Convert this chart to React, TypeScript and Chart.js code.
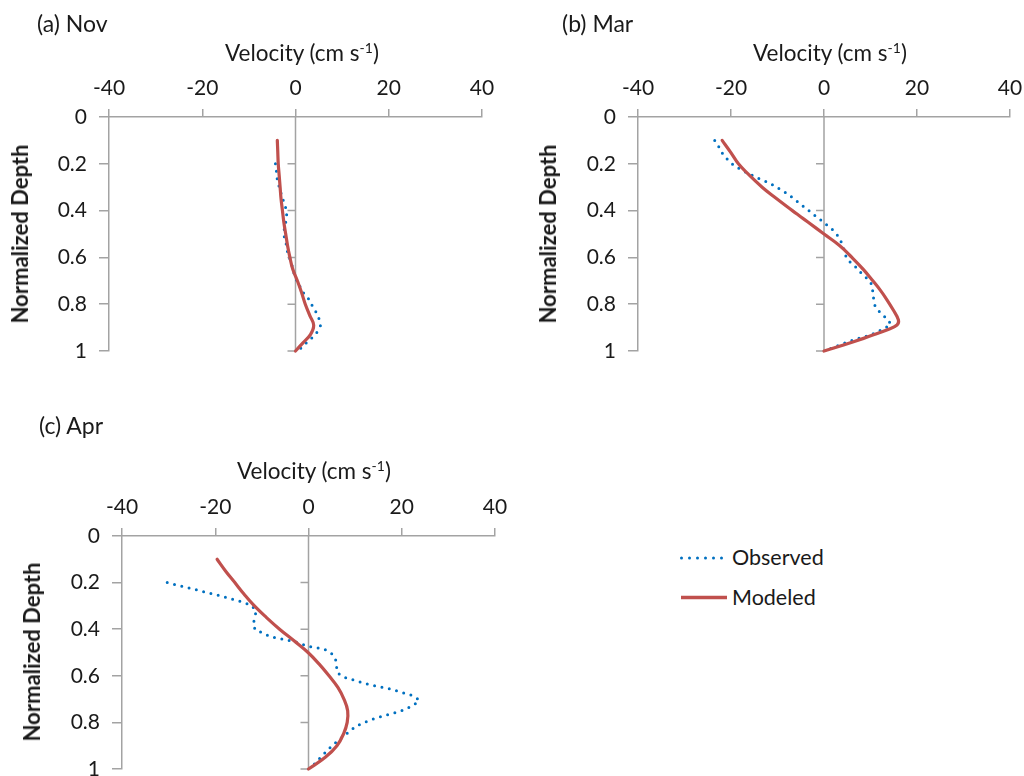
import React, { useEffect, useRef } from "react";
import { Chart, registerables } from "chart.js";

Chart.register(...registerables);

// ---------- data ----------
const velocityTicks = [-40, -20, 0, 20, 40];
const depthTicks = [0, 0.2, 0.4, 0.6, 0.8, 1];

const novModDepth = [0.1, 0.15, 0.2, 0.25, 0.3, 0.35, 0.4, 0.45, 0.5, 0.55, 0.6, 0.65, 0.7, 0.75, 0.8, 0.85, 0.89, 0.93, 0.965, 1.0];
const novModVel = [-3.9, -3.8, -3.7, -3.5, -3.3, -3.1, -2.8, -2.5, -2.1, -1.7, -1.2, -0.6, 0.4, 1.3, 2.1, 3.1, 3.9, 3.2, 1.6, 0];
const novObsDepth = [0.2, 0.23, 0.27, 0.34, 0.4, 0.43, 0.5, 0.53, 0.57, 0.65, 0.68, 0.75, 0.77, 0.8, 0.83, 0.86, 0.89, 0.92, 0.946, 0.967, 1.0];
const novObsVel = [-4.3, -4.1, -3.9, -2.9, -1.9, -1.9, -2.6, -2.1, -1.8, -0.5, -0.2, 1.6, 2.6, 3.4, 4.3, 5.0, 5.4, 4.6, 3.4, 2.2, 0.5];

const marModDepth = [0.1, 0.15, 0.2, 0.24, 0.3, 0.34, 0.4, 0.425, 0.45, 0.5, 0.55, 0.6, 0.65, 0.7, 0.74, 0.78, 0.825, 0.867, 0.889, 0.91, 0.93, 0.946, 0.974, 1.0];
const marModVel = [-21.9, -20.1, -18.4, -16.5, -13.3, -10.8, -6.8, -5.1, -3.4, 0, 3.4, 6.0, 8.4, 10.5, 12.1, 13.5, 14.9, 16.0, 15.7, 13.5, 10.8, 8.5, 4.2, 0];
const marObsDepth = [0.1, 0.128, 0.157, 0.183, 0.207, 0.223, 0.24, 0.254, 0.268, 0.28, 0.297, 0.314, 0.332, 0.354, 0.375, 0.394, 0.415, 0.432, 0.457, 0.479, 0.503, 0.529, 0.56, 0.594, 0.618, 0.639, 0.665, 0.689, 0.713, 0.746, 0.782, 0.81, 0.836, 0.86, 0.885, 0.903, 0.93, 0.96, 1.0];
const marObsVel = [-23.5, -22.6, -21.8, -20.7, -19.4, -18.0, -16.4, -14.9, -13.5, -11.9, -10.5, -9.0, -7.6, -6.2, -4.9, -3.6, -2.4, -1.2, 0.3, 1.7, 2.8, 3.6, 4.2, 4.7, 5.5, 6.7, 7.9, 9.2, 10.2, 10.5, 10.7, 11.0, 12.1, 13.4, 14.4, 13.1, 10.2, 5.2, 0];

const aprModDepth = [0.1, 0.15, 0.2, 0.25, 0.3, 0.35, 0.4, 0.45, 0.5, 0.55, 0.6, 0.65, 0.7, 0.75, 0.8, 0.85, 0.9, 0.95, 1.0];
const aprModVel = [-19.6, -17.8, -15.8, -13.8, -11.6, -9.0, -6.2, -3.1, -0.1, 2.3, 4.4, 6.3, 7.6, 8.4, 8.3, 7.5, 6.1, 3.6, 0];
const aprObsDepth = [0.2, 0.225, 0.258, 0.285, 0.297, 0.318, 0.346, 0.378, 0.403, 0.418, 0.432, 0.439, 0.446, 0.453, 0.463, 0.474, 0.486, 0.503, 0.528, 0.56, 0.589, 0.607, 0.636, 0.657, 0.686, 0.703, 0.725, 0.739, 0.753, 0.77, 0.79, 0.817, 0.839, 0.87, 0.903, 0.95, 0.98, 1.0];
const aprObsVel = [-30.3, -25.3, -18.7, -13.9, -12.3, -11.3, -11.4, -11.9, -11.4, -9.6, -8.2, -6.4, -4.7, -3.1, -1.6, 0.1, 3.4, 4.9, 5.8, 6.0, 6.3, 7.8, 12.7, 17.6, 22.5, 23.7, 22.7, 21.2, 19.6, 16.4, 13.2, 10.1, 8.8, 6.8, 4.9, 2.6, 1.2, 0.3];

const seriesLabels = ["Observed", "Modeled"];
const panelTitles = ["(a) Nov", "(b) Mar", "(c) Apr"];

// ---------- styles ----------
const FONT = "Lato";
const FS_TICK = 21;
const TEXT = "#1a1a1a";
const AXIS = "#a3a3a3";
const BLUE = "#0070C0";
const RED = "#C0504D";

const zeroLine = {
  id: "zeroLine",
  beforeDatasetsDraw(chart: any) {
    const { ctx, chartArea, scales } = chart;
    const x0 = scales.x.getPixelForValue(0);
    ctx.save();
    ctx.strokeStyle = AXIS;
    ctx.lineWidth = 1.5;
    ctx.beginPath();
    ctx.moveTo(x0, chartArea.top);
    ctx.lineTo(x0, chartArea.bottom);
    depthTicks.forEach((d) => {
      if (d === 0) return;
      const y = scales.y.getPixelForValue(d);
      ctx.moveTo(x0 - 8, y);
      ctx.lineTo(x0, y);
    });
    ctx.stroke();
    ctx.restore();
  },
};

type PanelProps = {
  left: number;
  top: number;
  width: number;
  height: number;
  plot: { l: number; r: number; t: number; b: number };
  obsD: number[];
  obsV: number[];
  modD: number[];
  modV: number[];
};

function Panel(p: PanelProps) {
  const ref = useRef<HTMLCanvasElement | null>(null);
  useEffect(() => {
    if (!ref.current) return;
    const font = { family: FONT, size: FS_TICK };
    const chart = new Chart(ref.current, {
      type: "scatter",
      data: {
        datasets: [
          {
            label: seriesLabels[1],
            data: p.modD.map((d, i) => ({ x: p.modV[i], y: d })),
            showLine: true,
            borderColor: RED,
            backgroundColor: RED,
            borderWidth: 3.2,
            borderCapStyle: "round",
            borderJoinStyle: "round",
            pointRadius: 0,
            tension: 0.4,
            clip: false,
          } as any,
          {
            label: seriesLabels[0],
            data: p.obsD.map((d, i) => ({ x: p.obsV[i], y: d })),
            showLine: true,
            borderColor: BLUE,
            backgroundColor: BLUE,
            borderWidth: 3,
            borderDash: [0, 7.5],
            borderCapStyle: "round",
            pointRadius: 0,
            tension: 0,
            clip: false,
          } as any,
        ],
      },
      options: {
        animation: false,
        responsive: false,
        maintainAspectRatio: false,
        layout: {
          autoPadding: false,
          padding: { left: 0, top: 0, right: p.width - p.plot.r, bottom: p.height - p.plot.b },
        },
        plugins: { legend: { display: false }, tooltip: { enabled: false } },
        scales: {
          x: {
            type: "linear",
            position: "top",
            min: -40,
            max: 40,
            afterBuildTicks: (s: any) => {
              s.ticks = velocityTicks.map((v) => ({ value: v }));
            },
            ticks: { font, color: TEXT, padding: 8, maxRotation: 0 },
            grid: { drawOnChartArea: false, drawTicks: true, tickLength: 8, color: AXIS, lineWidth: 1.5 },
            border: { display: true, color: AXIS, width: 1.5 },
            afterFit: (s: any) => {
              s.height = p.plot.t;
              s.paddingLeft = 0;
              s.paddingRight = 0;
            },
          },
          y: {
            type: "linear",
            position: "left",
            reverse: true,
            min: 0,
            max: 1,
            afterBuildTicks: (s: any) => {
              s.ticks = depthTicks.map((v) => ({ value: v }));
            },
            ticks: {
              font,
              color: TEXT,
              padding: 12,
              callback: (v: any) => String(Math.round(Number(v) * 10) / 10),
            },
            grid: { drawOnChartArea: false, drawTicks: true, tickLength: 10, color: AXIS, lineWidth: 1.5 },
            border: { display: true, color: AXIS, width: 1.5 },
            afterFit: (s: any) => {
              s.width = p.plot.l;
              s.paddingTop = 0;
              s.paddingBottom = 0;
            },
          },
        },
      } as any,
      plugins: [zeroLine],
    });
    return () => chart.destroy();
  }, []);
  return (
    <canvas
      ref={ref}
      width={p.width}
      height={p.height}
      style={{ position: "absolute", left: p.left, top: p.top, width: p.width, height: p.height, display: "block" }}
    />
  );
}

const txt: React.CSSProperties = {
  position: "absolute",
  fontFamily: FONT,
  fontSize: 22.5,
  lineHeight: "24px",
  color: TEXT,
  whiteSpace: "nowrap",
};

function VelTitle({ left, top }: { left: number; top: number }) {
  return (
    <div style={{ ...txt, left, top }}>
      Velocity (cm s<span style={{ fontSize: "0.62em", position: "relative", top: "-0.6em" }}>-1</span>)
    </div>
  );
}

function DepthTitle({ cx, cy }: { cx: number; cy: number }) {
  return (
    <div
      style={{
        ...txt,
        fontSize: 22,
        fontWeight: 700,
        left: cx,
        top: cy,
        transform: "translate(-50%, -50%) rotate(-90deg)",
      }}
    >
      Normalized Depth
    </div>
  );
}

export default function App() {
  return (
    <div style={{ position: "fixed", left: 0, top: 0, width: 1024, height: 776, background: "#fff", overflow: "hidden" }}>
      <Panel left={0} top={0} width={512} height={380} plot={{ l: 109, r: 482, t: 117, b: 351 }}
        obsD={novObsDepth} obsV={novObsVel} modD={novModDepth} modV={novModVel} />
      <Panel left={520} top={0} width={504} height={380} plot={{ l: 118, r: 490, t: 117, b: 351 }}
        obsD={marObsDepth} obsV={marObsVel} modD={marModDepth} modV={marModVel} />
      <Panel left={0} top={400} width={520} height={376} plot={{ l: 122, r: 495, t: 136, b: 369 }}
        obsD={aprObsDepth} obsV={aprObsVel} modD={aprModDepth} modV={aprModVel} />

      <div style={{ ...txt, fontSize: 23, left: 37, top: 11 }}>{panelTitles[0]}</div>
      <div style={{ ...txt, fontSize: 23, left: 562, top: 11 }}>{panelTitles[1]}</div>
      <div style={{ ...txt, fontSize: 23, left: 39, top: 413 }}>{panelTitles[2]}</div>

      <VelTitle left={225} top={41} />
      <VelTitle left={753} top={41} />
      <VelTitle left={237} top={459} />

      <DepthTitle cx={20} cy={234} />
      <DepthTitle cx={548} cy={234} />
      <DepthTitle cx={32} cy={652} />

      <svg style={{ position: "absolute", left: 676, top: 550 }} width={60} height={60}>
        <line x1={5.5} y1={8} x2={46} y2={8} stroke={BLUE} strokeWidth={3} strokeDasharray="0 8" strokeLinecap="round" />
        <line x1={5} y1={47.5} x2={51} y2={47.5} stroke={RED} strokeWidth={3.5} />
      </svg>
      <div style={{ ...txt, fontSize: 21.5, left: 732, top: 545 }}>{seriesLabels[0]}</div>
      <div style={{ ...txt, fontSize: 21.5, left: 732, top: 585 }}>{seriesLabels[1]}</div>
    </div>
  );
}
